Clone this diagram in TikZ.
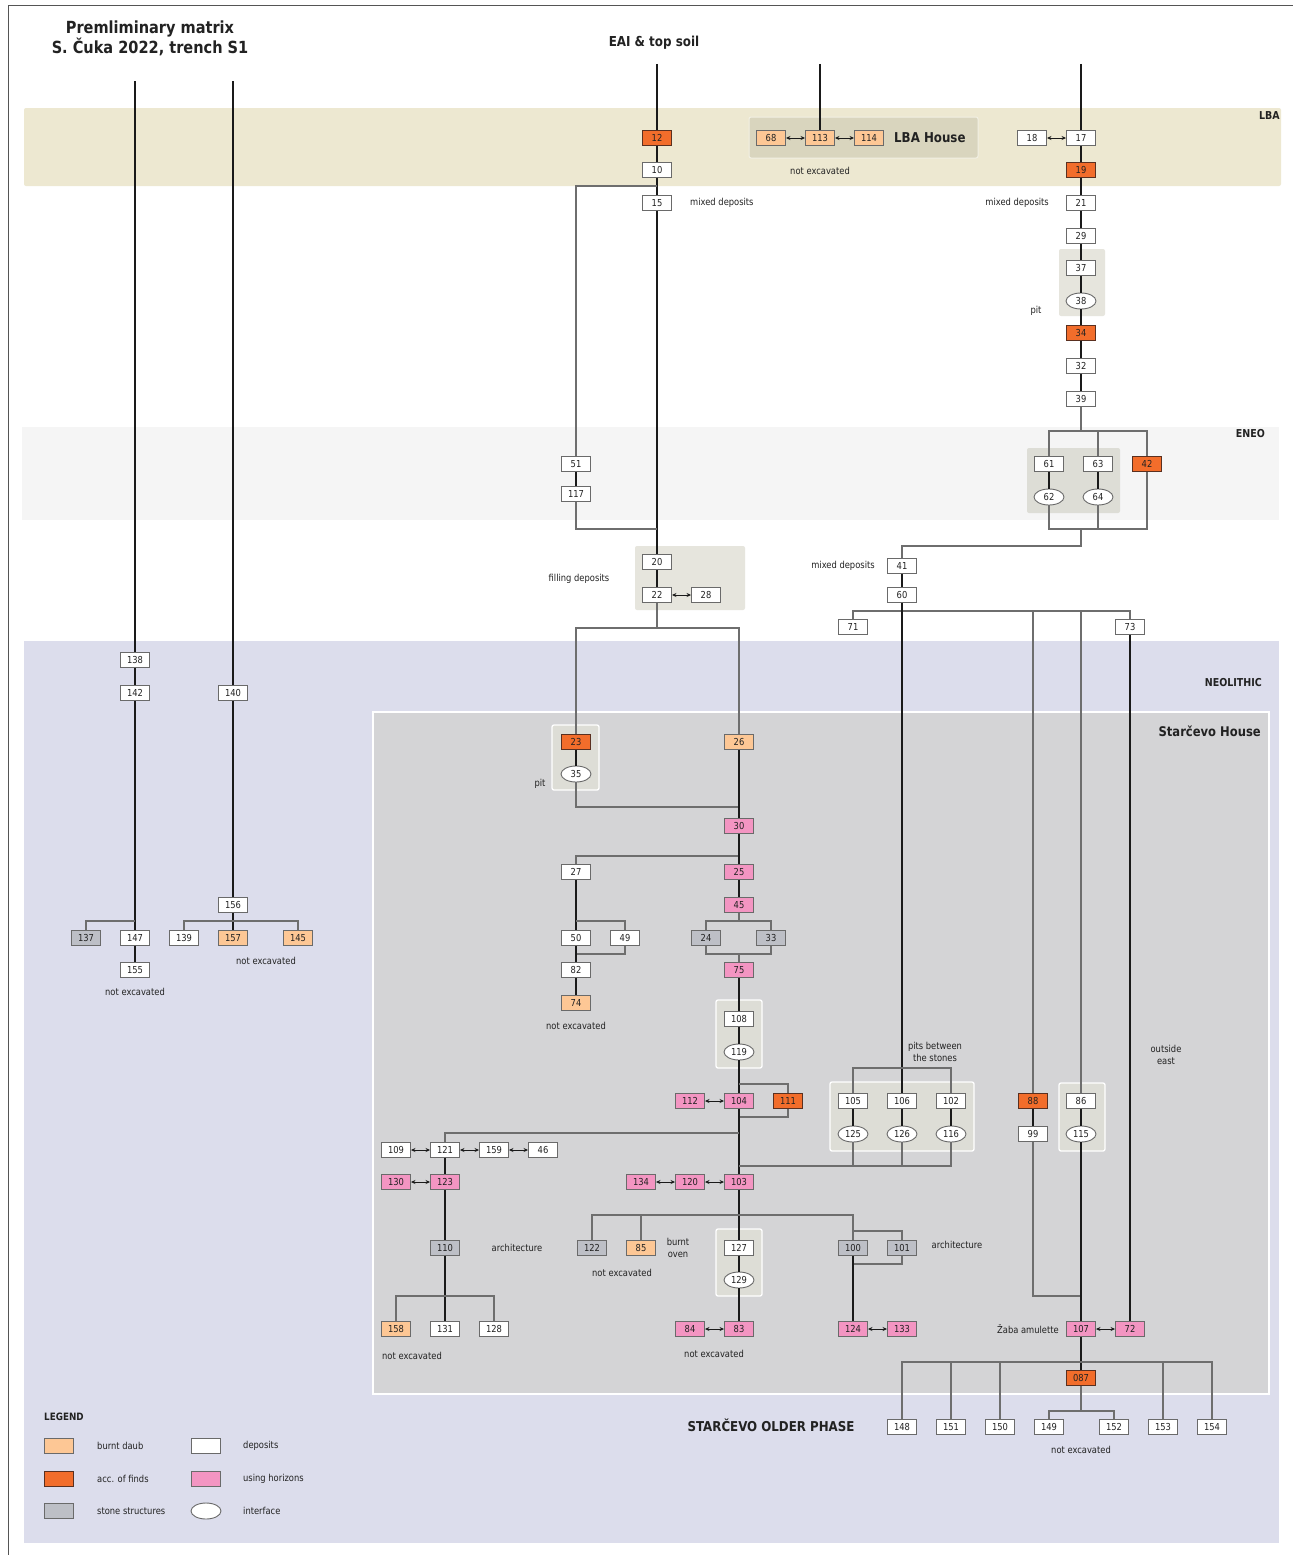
\documentclass[tikz,border=0pt]{standalone}
\usepackage{fontspec}
\setmainfont{DejaVu Sans}[FakeStretch=0.87]
\usetikzlibrary{arrows.meta,shapes.geometric}
\definecolor{cDaub}{HTML}{FDC795}
\definecolor{cAcc}{HTML}{F26D2B}
\definecolor{cAccB}{HTML}{5A3020}
\definecolor{cStone}{HTML}{BDBFC6}
\definecolor{cHor}{HTML}{F395C2}
\definecolor{cLBA}{HTML}{EDE8D1}
\definecolor{cENEO}{HTML}{F5F5F5}
\definecolor{cNeo}{HTML}{DCDDEC}
\definecolor{cHouse}{HTML}{D4D4D6}
\definecolor{cGrp}{HTML}{DDDDD6}
\definecolor{cGrpL}{HTML}{E6E5DD}
\definecolor{cLBAgrp}{HTML}{D9D5BE}
\definecolor{cLBAgrpB}{HTML}{F2F0E4}
\definecolor{cLine}{HTML}{1A1A1A}
\definecolor{cGray}{HTML}{6E6E6E}
\definecolor{cBorder}{HTML}{6A6A6A}
\definecolor{cText}{HTML}{222222}
\definecolor{cFrame}{HTML}{555555}
\tikzset{
  mbox/.style={rectangle, draw=cBorder, line width=0.9pt, minimum width=29pt, minimum height=15pt, inner sep=0pt, text=cText, font=\fontsize{9.6}{10}\selectfont},
  dep/.style={mbox, fill=white},
  daub/.style={mbox, fill=cDaub},
  accf/.style={mbox, fill=cAcc, draw=cAccB},
  stone/.style={mbox, fill=cStone},
  horz/.style={mbox, fill=cHor},
  intf/.style={ellipse, draw=cBorder, line width=0.9pt, fill=white, minimum width=30pt, minimum height=16pt, inner sep=0pt, text=cText, font=\fontsize{9.6}{10}\selectfont},
  bl/.style={draw=cLine, line width=1.2pt},
  gl/.style={draw=cGray, line width=1.2pt},
  dbl/.style={draw=cLine, line width=1pt, {Stealth[length=4.5pt,width=4pt]}-{Stealth[length=4.5pt,width=4pt]}},
  lbl/.style={inner sep=0pt, text=cText, font=\fontsize{9.6}{12}\selectfont, align=center},
  hdr/.style={inner sep=0pt, text=cText, font=\bfseries\fontsize{10.9}{12}\selectfont},
  big/.style={inner sep=0pt, text=cText, font=\bfseries\fontsize{13.6}{15}\selectfont},
  grpw/.style={fill=cGrp, draw=white, line width=1.3pt, rounded corners=2pt},
}
\begin{document}
\begin{tikzpicture}[x=1pt,y=-1pt]
\useasboundingbox (0,0) rectangle (1293,1555);
\fill[white] (0,0) rectangle (1293,1555);
% bands
\fill[cLBA, rounded corners=2pt] (24,108) rectangle (1281,186);
\fill[cENEO] (22,427) rectangle (1279,520);
\fill[cNeo] (24,641) rectangle (1279,1543);
\filldraw[fill=cHouse, draw=white, line width=1.2pt] (373,712) rectangle (1269,1394);
% groups
\filldraw[fill=cLBAgrp, draw=cLBAgrpB, line width=1pt, rounded corners=2pt] (749,117) rectangle (978,158);
\fill[cGrpL, rounded corners=2pt] (1059,249) rectangle (1105,316);
\fill[cGrp, rounded corners=2pt] (1027,448) rectangle (1120,513);
\fill[cGrpL, rounded corners=2pt] (635,546) rectangle (745,610);
\filldraw[grpw] (552,725) rectangle (599,790);
\filldraw[grpw] (716,1000) rectangle (762,1068);
\filldraw[grpw] (830,1082) rectangle (974,1151);
\filldraw[grpw] (1059,1083) rectangle (1105,1151);
\filldraw[grpw] (716,1229) rectangle (762,1296);
% frame
\draw[cFrame, line width=1pt] (8,1555) -- (8,6) -- (1293,6);

% ---------- nodes ----------
\node[accf] (n12) at (657,138) {12};
\node[dep] (n10) at (657,170) {10};
\node[dep] (n15) at (657,203) {15};
\node[daub] (n68) at (771,138) {68};
\node[daub] (n113) at (820,138) {113};
\node[daub] (n114) at (869,138) {114};
\node[dep] (n18) at (1032,138) {18};
\node[dep] (n17) at (1081,138) {17};
\node[accf] (n19) at (1081,170) {19};
\node[dep] (n21) at (1081,203) {21};
\node[dep] (n29) at (1081,236) {29};
\node[dep] (n37) at (1081,268) {37};
\node[intf] (n38) at (1081,301) {38};
\node[accf] (n34) at (1081,333) {34};
\node[dep] (n32) at (1081,366) {32};
\node[dep] (n39) at (1081,399) {39};
\node[dep] (n61) at (1049,464) {61};
\node[dep] (n63) at (1098,464) {63};
\node[accf] (n42) at (1147,464) {42};
\node[intf] (n62) at (1049,497) {62};
\node[intf] (n64) at (1098,497) {64};
\node[dep] (n51) at (576,464) {51};
\node[dep] (n117) at (576,494) {117};
\node[dep] (n20) at (657,562) {20};
\node[dep] (n22) at (657,595) {22};
\node[dep] (n28) at (706,595) {28};
\node[dep] (n41) at (902,566) {41};
\node[dep] (n60) at (902,595) {60};
\node[dep] (n71) at (853,627) {71};
\node[dep] (n73) at (1130,627) {73};

\node[dep] (n138) at (135,660) {138};
\node[dep] (n142) at (135,693) {142};
\node[dep] (n140) at (233,693) {140};
\node[dep] (n156) at (233,905) {156};
\node[stone] (n137) at (86,938) {137};
\node[dep] (n147) at (135,938) {147};
\node[dep] (n155) at (135,970) {155};
\node[dep] (n139) at (184,938) {139};
\node[daub] (n157) at (233,938) {157};
\node[daub] (n145) at (298,938) {145};

\node[accf] (n23) at (576,742) {23};
\node[intf] (n35) at (576,774) {35};
\node[daub] (n26) at (739,742) {26};
\node[horz] (n30) at (739,826) {30};
\node[dep] (n27) at (576,872) {27};
\node[horz] (n25) at (739,872) {25};
\node[horz] (n45) at (739,905) {45};
\node[dep] (n50) at (576,938) {50};
\node[dep] (n49) at (625,938) {49};
\node[stone] (n24) at (706,938) {24};
\node[stone] (n33) at (771,938) {33};
\node[dep] (n82) at (576,970) {82};
\node[horz] (n75) at (739,970) {75};
\node[daub] (n74) at (576,1003) {74};
\node[dep] (n108) at (739,1019) {108};
\node[intf] (n119) at (739,1052) {119};
\node[horz] (n112) at (690,1101) {112};
\node[horz] (n104) at (739,1101) {104};
\node[accf] (n111) at (788,1101) {111};
\node[dep] (n105) at (853,1101) {105};
\node[dep] (n106) at (902,1101) {106};
\node[dep] (n102) at (951,1101) {102};
\node[intf] (n125) at (853,1134) {125};
\node[intf] (n126) at (902,1134) {126};
\node[intf] (n116) at (951,1134) {116};
\node[accf] (n88) at (1033,1101) {88};
\node[dep] (n99) at (1033,1134) {99};
\node[dep] (n86) at (1081,1101) {86};
\node[intf] (n115) at (1081,1134) {115};
\node[dep] (n109) at (396,1150) {109};
\node[dep] (n121) at (445,1150) {121};
\node[dep] (n159) at (494,1150) {159};
\node[dep] (n46) at (543,1150) {46};
\node[horz] (n130) at (396,1182) {130};
\node[horz] (n123) at (445,1182) {123};
\node[horz] (n134) at (641,1182) {134};
\node[horz] (n120) at (690,1182) {120};
\node[horz] (n103) at (739,1182) {103};
\node[stone] (n110) at (445,1248) {110};
\node[stone] (n122) at (592,1248) {122};
\node[daub] (n85) at (641,1248) {85};
\node[dep] (n127) at (739,1248) {127};
\node[intf] (n129) at (739,1280) {129};
\node[stone] (n100) at (853,1248) {100};
\node[stone] (n101) at (902,1248) {101};
\node[daub] (n158) at (396,1329) {158};
\node[dep] (n131) at (445,1329) {131};
\node[dep] (n128) at (494,1329) {128};
\node[horz] (n84) at (690,1329) {84};
\node[horz] (n83) at (739,1329) {83};
\node[horz] (n124) at (853,1329) {124};
\node[horz] (n133) at (902,1329) {133};
\node[horz] (n107) at (1081,1329) {107};
\node[horz] (n72) at (1130,1329) {72};
\node[accf] (n087) at (1081,1378) {087};
\node[dep] (n148) at (902,1427) {148};
\node[dep] (n151) at (951,1427) {151};
\node[dep] (n150) at (1000,1427) {150};
\node[dep] (n149) at (1049,1427) {149};
\node[dep] (n152) at (1114,1427) {152};
\node[dep] (n153) at (1163,1427) {153};
\node[dep] (n154) at (1212,1427) {154};

% legend
\node[hdr, anchor=west, font=\bfseries\fontsize{10.1}{11}\selectfont] (lgT) at (44,1417) {LEGEND};
\node[daub] (lg1) at (59,1446) {};
\node[accf] (lg2) at (59,1479) {};
\node[stone] (lg3) at (59,1511) {};
\node[dep] (lg4) at (206,1446) {};
\node[horz] (lg5) at (206,1479) {};
\node[intf] (lg6) at (206,1511) {};
\node[lbl, anchor=west] (lt1) at (97,1446) {burnt daub};
\node[lbl, anchor=west] (lt2) at (97,1479) {acc. of finds};
\node[lbl, anchor=west] (lt3) at (97,1511) {stone structures};
\node[lbl, anchor=west] (lt4) at (243,1446) {deposits};
\node[lbl, anchor=west] (lt5) at (243,1479) {using horizons};
\node[lbl, anchor=west] (lt6) at (243,1511) {interface};

% titles and labels
\node[inner sep=0pt, text=cText, font=\bfseries\fontsize{16.7}{19}\selectfont, align=center] (title) at (150,38) {Premliminary matrix\\S. Čuka 2022, trench S1};
\node[inner sep=0pt, text=cText, font=\bfseries\fontsize{13.7}{14}\selectfont] (eai) at (654,43) {EAI \& top soil};
\node[big, anchor=west] (lbah) at (894,138) {LBA House};
\node[hdr, anchor=east] (lba) at (1280,116) {LBA};
\node[hdr, anchor=east] (eneo) at (1265,434) {ENEO};
\node[hdr, anchor=east] (neo) at (1262,683) {NEOLITHIC};
\node[big, anchor=east, font=\bfseries\fontsize{13.3}{15}\selectfont] (sth) at (1261,731) {Starčevo House};
\node[inner sep=0pt, text=cText, font=\bfseries\fontsize{13.6}{15}\selectfont] (sop) at (771,1425) {STARČEVO OLDER PHASE};
\node[lbl] (l1) at (820,171) {not excavated};
\node[lbl, anchor=west] (l2) at (690,203) {mixed deposits};
\node[lbl, anchor=east] (l3) at (1049,203) {mixed deposits};
\node[lbl] (l4) at (1036,311) {pit};
\node[lbl] (l5) at (579,579) {filling deposits};
\node[lbl] (l6) at (843,566) {mixed deposits};
\node[lbl] (l7) at (540,784) {pit};
\node[lbl] (l8) at (135,992) {not excavated};
\node[lbl] (l9) at (266,961) {not excavated};
\node[lbl] (l10) at (576,1026) {not excavated};
\node[lbl] (l11) at (622,1273) {not excavated};
\node[lbl] (l12) at (412,1356) {not excavated};
\node[lbl] (l13) at (714,1354) {not excavated};
\node[lbl] (l14) at (1081,1450) {not excavated};
\node[lbl] (l15) at (517,1248) {architecture};
\node[lbl] (l16) at (957,1245) {architecture};
\node[lbl] (l17) at (678,1248) {burnt\\oven};
\node[lbl] (l18) at (935,1052) {pits between\\the stones};
\node[lbl] (l19) at (1166,1055) {outside\\east};
\node[lbl, anchor=east] (l20) at (1059,1329) {Žaba amulette};

% ---------- coordinates ----------
\coordinate (t135) at (135,81);
\coordinate (t233) at (233,81);
\coordinate (t657) at (657,64);
\coordinate (t820) at (820,64);
\coordinate (t1081) at (1081,64);
\coordinate (j10) at (657,186);
\coordinate (j530) at (657,529);
\coordinate (j431) at (1081,431);
\coordinate (j529) at (1081,529);
\coordinate (j546) at (1081,546);
\coordinate (h611) at (902,611);
\coordinate (j1296) at (1081,1296);
\coordinate (hb) at (1081,1362);
\coordinate (hb2) at (1081,1411);
\coordinate (j921a) at (135,921);
\coordinate (j921c) at (298,921);
\coordinate (j628) at (657,628);
\coordinate (j807) at (739,807);
\coordinate (j856) at (739,856);
\coordinate (j921d) at (576,921);
\coordinate (j954a) at (576,954);
\coordinate (j921e) at (739,921);
\coordinate (j954b) at (739,954);
\coordinate (j1084) at (739,1084);
\coordinate (j1117) at (739,1117);
\coordinate (j1133) at (739,1133);
\coordinate (j1166) at (739,1166);
\coordinate (j1068) at (902,1068);
\coordinate (j1296b) at (445,1296);
\coordinate (j1215) at (739,1215);
\coordinate (j1231) at (853,1231);
\coordinate (j1264) at (853,1264);

% ---------- connectors ----------
% top verticals
\draw[bl] (t135) -- (n138);
\draw[bl] (n138) -- (n142);
\draw[bl] (t233) -- (n140);
\draw[bl] (t657) -- (n12);
\draw[bl] (n12) -- (n10);
\draw[bl] (n10) -- (n15);
\draw[bl] (n15) -- (n20);
\draw[bl] (t820) -- (n113);
\draw[bl] (t1081) -- (n17);
\draw[bl] (n17) -- (n19);
\draw[bl] (n19) -- (n21);
\draw[bl] (n21) -- (n29);
\draw[bl] (n29) -- (n37);
\draw[bl] (n37) -- (n38);
\draw[bl] (n38) -- (n34);
\draw[bl] (n34) -- (n32);
\draw[bl] (n32) -- (n39);
\draw[dbl] (n68) -- (n113);
\draw[dbl] (n113) -- (n114);
\draw[dbl] (n18) -- (n17);
% 10 -> 51 / 117
\draw[gl] (j10) -| (n51);
\draw[bl] (n51) -- (n117);
\draw[gl] (n117) |- (j530);
% ENEO
\draw[gl] (n39) -- (j431);
\draw[gl] (n61) |- (j431) -| (n42);
\draw[gl] (n63) -- (n63 |- j431);
\draw[bl] (n61) -- (n62);
\draw[bl] (n63) -- (n64);
\draw[gl] (n62) |- (j529) -| (n42);
\draw[gl] (n64) -- (n64 |- j529);
\draw[gl] (j529) -- (j546) -| (n41);
\draw[bl] (n41) -- (n60);
\draw[gl] (n71) |- (h611) -| (n73);
\draw[bl] (n60) -- (n106);
\draw[gl] (n88 |- h611) -- (n88);
\draw[gl] (n86 |- h611) -- (n86);
\draw[bl] (n73) -- (n72);
\draw[bl] (n88) -- (n99);
\draw[gl] (n99) |- (j1296);
\draw[bl] (n86) -- (n115);
\draw[bl] (n115) -- (n107);
\draw[dbl] (n107) -- (n72);
\draw[bl] (n107) -- (n087);
\draw[gl] (n148) |- (hb) -| (n154);
\draw[gl] (n151) -- (n151 |- hb);
\draw[gl] (n150) -- (n150 |- hb);
\draw[gl] (n153) -- (n153 |- hb);
\draw[gl] (n087) -- (hb2);
\draw[gl] (n149) |- (hb2) -| (n152);
% neolithic left
\draw[bl] (n142) -- (n147);
\draw[gl] (n137) |- (j921a);
\draw[bl] (n147) -- (n155);
\draw[bl] (n140) -- (n156);
\draw[bl] (n156) -- (n157);
\draw[gl] (n139) |- (j921c) -- (n145);
% filling deposits
\draw[bl] (n20) -- (n22);
\draw[dbl] (n22) -- (n28);
\draw[gl] (n22) -- (j628);
\draw[gl] (n23) |- (j628) -| (n26);
% starcevo house
\draw[bl] (n23) -- (n35);
\draw[gl] (n35) |- (j807);
\draw[bl] (n26) -- (n30);
\draw[gl] (j856) -| (n27);
\draw[bl] (n30) -- (n25);
\draw[bl] (n27) -- (n50);
\draw[gl] (j921d) -| (n49);
\draw[gl] (n49) |- (j954a);
\draw[bl] (n50) -- (n82);
\draw[bl] (n82) -- (n74);
\draw[bl] (n25) -- (n45);
\draw[gl] (n45) -- (j921e);
\draw[gl] (n24) |- (j921e) -| (n33);
\draw[gl] (n24) |- (j954b) -| (n33);
\draw[gl] (j954b) -- (n75);
\draw[bl] (n75) -- (n108);
\draw[bl] (n108) -- (n119);
\draw[bl] (n119) -- (n104);
\draw[gl] (j1084) -| (n111);
\draw[gl] (n111) |- (j1117);
\draw[dbl] (n112) -- (n104);
\draw[bl] (n104) -- (n103);
\draw[gl] (j1133) -| (n121);
\draw[gl] (n116) |- (j1166);
\draw[gl] (n125) -- (n125 |- j1166);
\draw[gl] (n126) -- (n126 |- j1166);
\draw[gl] (n105) |- (j1068) -| (n102);
\draw[bl] (n105) -- (n125);
\draw[bl] (n106) -- (n126);
\draw[bl] (n102) -- (n116);
\draw[dbl] (n109) -- (n121);
\draw[dbl] (n121) -- (n159);
\draw[dbl] (n159) -- (n46);
\draw[dbl] (n130) -- (n123);
\draw[dbl] (n134) -- (n120);
\draw[dbl] (n120) -- (n103);
\draw[bl] (n121) -- (n123);
\draw[bl] (n123) -- (n110);
\draw[bl] (n110) -- (n131);
\draw[gl] (n158) |- (j1296b) -| (n128);
\draw[bl] (n103) -- (n127);
\draw[bl] (n127) -- (n129);
\draw[bl] (n129) -- (n83);
\draw[dbl] (n84) -- (n83);
\draw[gl] (n122) |- (j1215) -| (n100);
\draw[gl] (n85) -- (n85 |- j1215);
\draw[gl] (j1231) -| (n101);
\draw[gl] (n101) |- (j1264);
\draw[bl] (n100) -- (n124);
\draw[dbl] (n124) -- (n133);
\end{tikzpicture}
\end{document}
